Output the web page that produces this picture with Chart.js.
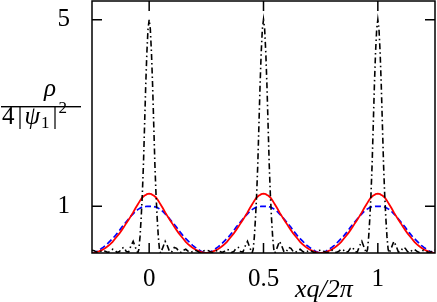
<!DOCTYPE html>
<html>
<head>
<meta charset="utf-8">
<script src="https://cdn.jsdelivr.net/npm/chart.js@4.4.0/dist/chart.umd.min.js"></script>
<style>
  html, body { margin: 0; padding: 0; background: #fff; }
</style>
</head>
<body>
<canvas id="chart" width="437" height="302"></canvas>
<script>
// peak positions (in units of xq/2pi) and distance from a peak centre
const peakCenters = [0, 0.5, 1];
const offsets = [0, 0.005, 0.01, 0.015, 0.02, 0.025, 0.03, 0.035, 0.04, 0.045, 0.05,
  0.06, 0.07, 0.08, 0.09, 0.10, 0.11, 0.12, 0.13, 0.14, 0.15,
  0.16, 0.17, 0.18, 0.19, 0.20, 0.21, 0.22, 0.23, 0.24, 0.25];

// curve values, one half-period each (the curves are symmetric)
const blackValues = [5.0, 4.8, 4.3, 3.6, 2.75, 1.9, 1.25, 0.75, 0.35, 0.08, 0.0,
  0.12, 0.25, 0.15, 0.02, 0.03, 0.12, 0.1, 0.03, 0.01, 0.06,
  0.08, 0.04, 0.01, 0.03, 0.06, 0.04, 0.01, 0.02, 0.05, 0.06];
const redValues = [1.27, 1.265, 1.26, 1.245, 1.23, 1.21, 1.19, 1.155, 1.12, 1.08, 1.04,
  0.96, 0.87, 0.79, 0.71, 0.64, 0.56, 0.49, 0.42, 0.36, 0.30,
  0.24, 0.19, 0.15, 0.11, 0.08, 0.055, 0.035, 0.02, 0.008, 0];
const blueValues = [1.0, 1.0, 1.0, 0.997, 0.995, 0.99, 0.985, 0.975, 0.96, 0.945, 0.93,
  0.89, 0.84, 0.79, 0.73, 0.67, 0.61, 0.55, 0.48, 0.42, 0.36,
  0.31, 0.26, 0.21, 0.165, 0.125, 0.09, 0.06, 0.03, 0.01, 0];

const xTicks = [0, 0.5, 1];
const xTickLabels = ['0', '0.5', '1'];
const yTicks = [1, 5];
const yTickLabels = ['1', '5'];

// put one half-period on both sides of every peak
function buildSeries(values) {
  const pts = [];
  peakCenters.forEach(c => {
    for (let i = offsets.length - 1; i > 0; i--) pts.push({ x: c - offsets[i], y: values[i] });
    for (let i = 0; i < offsets.length; i++) pts.push({ x: c + offsets[i], y: values[i] });
  });
  return pts;
}

const serif = "'Liberation Serif', 'DejaVu Serif', serif";

// frame with inward ticks on all four sides
const framePlugin = {
  id: 'frame',
  afterDraw(chart) {
    const ctx = chart.ctx;
    const a = chart.chartArea;
    const xs = chart.scales.x, ys = chart.scales.y;
    ctx.save();
    ctx.strokeStyle = '#000';
    ctx.lineWidth = 1.5;
    ctx.strokeRect(a.left, a.top, a.right - a.left, a.bottom - a.top);
    ctx.beginPath();
    xTicks.forEach(v => {
      const px = xs.getPixelForValue(v);
      ctx.moveTo(px, a.bottom); ctx.lineTo(px, a.bottom - 10);
      ctx.moveTo(px, a.top); ctx.lineTo(px, a.top + 10);
    });
    yTicks.forEach(v => {
      const py = ys.getPixelForValue(v);
      ctx.moveTo(a.left, py); ctx.lineTo(a.left + 10, py);
      ctx.moveTo(a.right, py); ctx.lineTo(a.right - 10, py);
    });
    ctx.stroke();
    ctx.restore();
  }
};

// axis titles: fraction on the left, xq/2pi under the axis
const titlePlugin = {
  id: 'titles',
  afterDraw(chart) {
    const ctx = chart.ctx;
    ctx.save();
    ctx.fillStyle = '#000';
    ctx.textBaseline = 'alphabetic';

    // numerator
    ctx.font = 'italic 25px ' + serif;
    ctx.textAlign = 'center';
    ctx.fillText('ρ', 50, 96);

    // fraction bar
    ctx.fillRect(1, 106, 80, 1.4);

    // denominator 4|ψ1|^2
    ctx.textAlign = 'left';
    let x = 2;
    const base = 124;
    ctx.font = '25px ' + serif;
    ctx.fillText('4', x, base); x += ctx.measureText('4').width + 3;
    ctx.fillText('|', x, base); x += ctx.measureText('|').width + 2;
    ctx.font = 'italic 25px ' + serif;
    ctx.fillText('ψ', x, base); x += ctx.measureText('ψ').width + 1;
    ctx.font = '17px ' + serif;
    ctx.fillText('1', x, base + 4); x += ctx.measureText('1').width + 3;
    ctx.font = '25px ' + serif;
    ctx.fillText('|', x, base); x += ctx.measureText('|').width + 1;
    ctx.font = '17px ' + serif;
    ctx.fillText('2', x, base - 11);

    // x title
    ctx.font = 'italic 26px ' + serif;
    ctx.fillText('xq/2π', 295, 297);
    ctx.restore();
  }
};

new Chart(document.getElementById('chart'), {
  type: 'line',
  data: {
    datasets: [
      {
        data: buildSeries(blackValues),
        borderColor: '#000',
        borderWidth: 1.6,
        borderDash: [6, 3, 1.5, 3],
        pointRadius: 0,
        tension: 0
      },
      {
        data: buildSeries(redValues),
        borderColor: '#ff0000',
        borderWidth: 1.8,
        pointRadius: 0,
        tension: 0
      },
      {
        data: buildSeries(blueValues),
        borderColor: '#0000ff',
        borderWidth: 1.7,
        borderDash: [6, 3],
        pointRadius: 0,
        tension: 0
      }
    ]
  },
  options: {
    responsive: false,
    animation: false,
    devicePixelRatio: 1,
    layout: { padding: { top: 1, right: 2, left: 0, bottom: 0 } },
    plugins: { legend: { display: false }, tooltip: { enabled: false } },
    scales: {
      x: {
        type: 'linear',
        min: -0.25,
        max: 1.25,
        grid: { display: false },
        border: { display: false },
        afterBuildTicks: s => { s.ticks = xTicks.map(v => ({ value: v })); },
        afterFit: s => { s.height = 49; s.paddingLeft = 0; s.paddingRight = 0; },
        ticks: {
          color: '#000',
          font: { family: serif, size: 25 },
          padding: 3,
          maxRotation: 0,
          callback: (v) => xTickLabels[xTicks.indexOf(v)]
        }
      },
      y: {
        min: 0,
        max: 5.4,
        grid: { display: false },
        border: { display: false },
        afterBuildTicks: s => { s.ticks = yTicks.map(v => ({ value: v })); },
        afterFit: s => { s.width = 92; s.paddingTop = 0; s.paddingBottom = 0; },
        ticks: {
          color: '#000',
          font: { family: serif, size: 25 },
          padding: 14,
          callback: (v) => yTickLabels[yTicks.indexOf(v)]
        }
      }
    }
  },
  plugins: [framePlugin, titlePlugin]
});
</script>
</body>
</html>
